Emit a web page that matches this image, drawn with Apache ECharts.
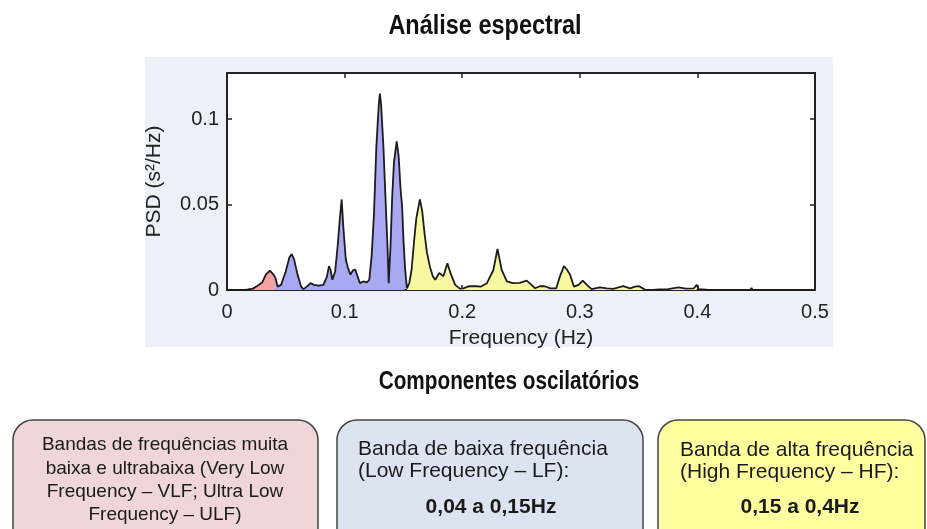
<!DOCTYPE html>
<html>
<head>
<meta charset="utf-8">
<script src="https://cdn.jsdelivr.net/npm/echarts@6/dist/echarts.min.js"></script>
<style>
html,body{margin:0;padding:0;background:#fff;}
#c{width:927px;height:529px;}
</style>
</head>
<body>
<div id="c"></div>
<script>
// ---- data ----
const freq = [0.000,0.015,0.018,0.022,0.026,0.030,0.033,0.0365,0.039,0.041,
  0.043,0.046,0.050,0.053,0.055,0.057,0.060,0.063,0.065,0.068,
  0.071,0.074,0.078,0.082,0.085,0.0867,0.088,0.0896,0.092,0.094,
  0.096,0.0975,0.099,0.101,0.103,0.105,0.107,0.109,0.111,0.113,
  0.116,0.119,0.121,0.123,0.125,0.127,0.129,0.130,0.131,0.133,
  0.135,0.1365,0.1375,0.139,0.1405,0.142,0.1443,0.146,0.1475,0.149,
  0.150,0.1515,0.153,0.155,0.157,0.159,0.161,0.164,0.166,0.168,
  0.170,0.1726,0.175,0.177,0.1805,0.184,0.1874,0.190,0.194,0.198,
  0.201,0.206,0.212,0.216,0.221,0.2265,0.230,0.2336,0.238,0.243,
  0.249,0.2548,0.259,0.262,0.266,0.270,0.275,0.280,0.283,0.2866,
  0.289,0.2917,0.295,0.299,0.3025,0.306,0.310,0.317,0.323,0.3285,
  0.333,0.337,0.3427,0.347,0.350,0.3554,0.362,0.368,0.375,0.384,
  0.390,0.397,0.3994,0.401,0.410,0.445,0.446,0.447,0.500];
const psd = [0,0,0.0003,0.0008,0.0025,0.0045,0.009,0.0113,0.0095,0.0075,
  0.002,0.003,0.011,0.019,0.021,0.018,0.009,0.002,0.0005,0.002,
  0.004,0.003,0.0025,0.003,0.008,0.014,0.012,0.006,0.011,0.025,
  0.042,0.053,0.036,0.018,0.0125,0.009,0.0115,0.012,0.008,0.004,
  0.005,0.0045,0.006,0.02,0.045,0.084,0.108,0.115,0.109,0.084,
  0.050,0.025,0.004,0.025,0.055,0.075,0.087,0.078,0.060,0.048,
  0.030,0.012,0.001,0.004,0.012,0.028,0.042,0.053,0.046,0.033,
  0.022,0.0135,0.008,0.006,0.010,0.008,0.0156,0.010,0.003,0.0008,
  0.001,0.0023,0.0022,0.002,0.004,0.0117,0.024,0.0117,0.005,0.004,
  0.0042,0.0055,0.003,0.001,0.0022,0.0022,0.001,0.001,0.0078,0.014,
  0.012,0.009,0.002,0.003,0.0055,0.003,0.0005,0.0016,0.001,0.0007,
  0.0015,0.0023,0.001,0.002,0.0023,0.0002,0,0.0003,0.0005,0.0015,
  0.0008,0.0010,0.003,0.0005,0,0,0.0012,0,0];
// band edges (Hz) as split on the curve: VLF | LF | HF
const bandEdges = [0.015, 0.041, 0.153, 0.4];
const bandColors = ['#F4A3A3', '#A9A9F3', '#F8F8A2'];

const pts = freq.map((f, i) => [f, psd[i]]);
const bandSeries = bandColors.map((col, b) => ({
  type: 'line',
  data: pts.filter(p => p[0] >= bandEdges[b] && p[0] <= bandEdges[b + 1]),
  showSymbol: false,
  symbol: 'none',
  lineStyle: { width: 0 },
  areaStyle: { color: col, opacity: 1 },
  z: 2,
  silent: true
}));

const FONT = "'Liberation Sans', Arial, sans-serif";

const chart = echarts.init(document.getElementById('c'), null, { renderer: 'canvas' });

const axisCommon = {
  type: 'value',
  axisLine: { show: true, onZero: false, lineStyle: { color: '#222', width: 2 } },
  axisTick: { show: true, inside: true, length: 5, lineStyle: { color: '#222', width: 1.5 } },
  splitLine: { show: false }
};

function box(x, y, w, h, fill) {
  return {
    type: 'rect', z: 1,
    shape: { x: x, y: y, width: w, height: h, r: 20 },
    style: { fill: fill, stroke: '#444', lineWidth: 1.5 }
  };
}
function txt(x, y, s, opts, extra) {
  return Object.assign({
    type: 'text', z: 5,
    x: x, y: y,
    style: Object.assign({
      text: s, font: '19px ' + FONT, fill: '#1a1a1a',
      align: 'left', verticalAlign: 'middle'
    }, opts || {})
  }, extra || {});
}

chart.setOption({
  animation: false,
  backgroundColor: '#fff',
  grid: { left: 227, right: 112, top: 73, bottom: 239, show: true, backgroundColor: '#fff', borderWidth: 0 },
  xAxis: [
    Object.assign({}, axisCommon, {
      position: 'bottom', min: 0, max: 0.5, interval: 0.1,
      axisLabel: { show: true, color: '#222', fontSize: 20, fontFamily: FONT, margin: 12 },
      name: 'Frequency (Hz)', nameLocation: 'middle', nameGap: 38,
      nameTextStyle: { color: '#222', fontSize: 21, fontFamily: FONT }
    }),
    Object.assign({}, axisCommon, {
      position: 'top', min: 0, max: 0.5, interval: 0.1,
      axisLabel: { show: false }
    })
  ],
  yAxis: [
    Object.assign({}, axisCommon, {
      position: 'left', min: 0, max: 0.127, interval: 0.05,
      axisLabel: { show: true, color: '#222', fontSize: 20, fontFamily: FONT, margin: 8, showMaxLabel: false },
      name: 'PSD (s²/Hz)', nameLocation: 'middle', nameGap: 62,
      nameTextStyle: { color: '#222', fontSize: 21, fontFamily: FONT }
    }),
    Object.assign({}, axisCommon, {
      position: 'right', min: 0, max: 0.127, interval: 0.05,
      axisLabel: { show: false }
    })
  ],
  series: bandSeries.concat([{
    type: 'line',
    data: pts,
    showSymbol: false,
    symbol: 'none',
    lineStyle: { color: '#1c1c1c', width: 1.8 },
    z: 3,
    silent: true
  }]),
  graphic: [
    { type: 'rect', z: -10, silent: true,
      shape: { x: 145, y: 57, width: 688, height: 290 },
      style: { fill: '#EDEFF9' } },
    txt(485, 26.5, 'Análise espectral', { font: 'bold 27px ' + FONT, align: 'center', fill: '#111' }, { scaleX: 0.87 }),
    txt(509, 382, 'Componentes oscilatórios', { font: 'bold 25px ' + FONT, align: 'center', fill: '#111' }, { scaleX: 0.83 }),
    box(13, 420, 305, 140, '#F0D6D6'),
    box(337, 420, 306, 140, '#DCE4F2'),
    box(658, 420, 267, 140, '#FFFFA0'),
    txt(165, 445, 'Bandas de frequências muita', { align: 'center' }),
    txt(165, 468.3, 'baixa e ultrabaixa (Very Low', { align: 'center' }),
    txt(165, 491.6, 'Frequency – VLF; Ultra Low', { align: 'center' }),
    txt(165, 514.9, 'Frequency – ULF)', { align: 'center' }),
    txt(358, 449, 'Banda de baixa frequência', { font: '21px ' + FONT }),
    txt(358, 471.3, '(Low Frequency – LF):', { font: '21px ' + FONT }),
    txt(491, 507.5, '0,04 a 0,15Hz', { font: 'bold 21px ' + FONT, align: 'center' }),
    txt(680, 450, 'Banda de alta frequência', { font: '21px ' + FONT }),
    txt(680, 472.3, '(High Frequency – HF):', { font: '21px ' + FONT }),
    txt(800, 507.5, '0,15 a 0,4Hz', { font: 'bold 21px ' + FONT, align: 'center' })
  ]
});
</script>
</body>
</html>
